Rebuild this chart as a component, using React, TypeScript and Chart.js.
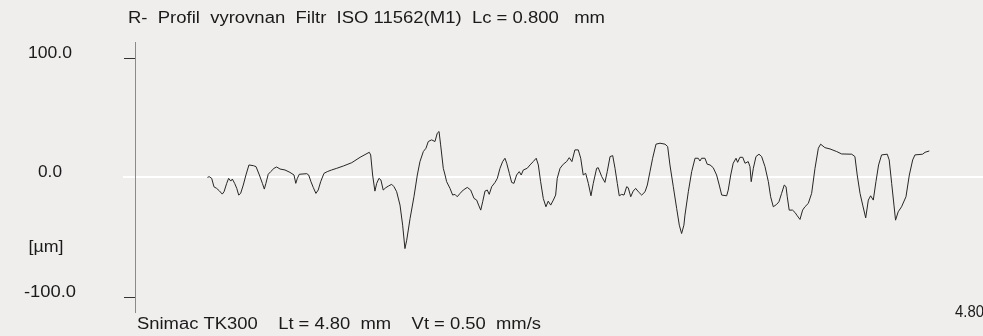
import { useEffect, useRef } from "react";
import { Chart, registerables } from "chart.js";

Chart.register(...registerables);

// Profile position along the trace [mm]
const profileX = [
  0.41, 0.42, 0.434, 0.447, 0.462, 0.477, 0.494, 0.504, 0.519, 0.53, 0.542, 0.551, 0.564, 0.576, 0.587, 0.598,
  0.613, 0.628, 0.645, 0.67, 0.685, 0.704, 0.721, 0.732, 0.741, 0.754, 0.768, 0.787, 0.802, 0.821, 0.849, 0.877,
  0.9, 0.91, 0.919, 0.93, 0.972, 0.983, 0.996, 1.009, 1.024, 1.037, 1.051, 1.066,
  1.07, 1.088, 1.113, 1.142, 1.179, 1.227, 1.274, 1.326, 1.334, 1.345, 1.358, 1.368, 1.381, 1.392, 1.405, 1.419,
  1.434, 1.453, 1.466, 1.481, 1.5, 1.515, 1.528, 1.538, 1.557, 1.579, 1.598, 1.613, 1.632, 1.647, 1.66, 1.679,
  1.698, 1.711, 1.721, 1.73, 1.745, 1.755,
  1.764, 1.783, 1.798, 1.811, 1.824, 1.84, 1.858, 1.881, 1.9, 1.919, 1.934, 1.945, 1.957, 1.968, 1.981, 1.994,
  2.005, 2.019, 2.038, 2.051, 2.066, 2.081, 2.094, 2.104, 2.119, 2.132, 2.145, 2.16, 2.175, 2.186, 2.198, 2.22,
  2.236, 2.254, 2.271, 2.283, 2.296, 2.311, 2.326, 2.339, 2.353, 2.368, 2.381, 2.39, 2.406, 2.424,
  2.443, 2.458, 2.473, 2.49, 2.509, 2.523, 2.537, 2.551, 2.566, 2.581, 2.594, 2.613, 2.622, 2.642, 2.66, 2.673,
  2.689, 2.704, 2.717, 2.73, 2.741, 2.755, 2.768, 2.783, 2.792, 2.806, 2.82, 2.834, 2.849, 2.868, 2.887, 2.9,
  2.915, 2.93, 2.949, 2.972, 3.0, 3.015, 3.028, 3.047, 3.066, 3.081, 3.094, 3.107,
  3.113, 3.132, 3.151, 3.17, 3.188, 3.198, 3.207, 3.226, 3.239, 3.255, 3.273, 3.292, 3.307, 3.321, 3.349, 3.358,
  3.372, 3.386, 3.402, 3.411, 3.424, 3.44, 3.453, 3.471, 3.481, 3.488, 3.5, 3.515, 3.532, 3.547, 3.566, 3.585,
  3.598, 3.613, 3.632, 3.645, 3.66, 3.675, 3.685, 3.692, 3.703, 3.722, 3.736, 3.749, 3.764, 3.779, 3.792,
  3.811, 3.83, 3.849, 3.868, 3.881, 3.905, 3.934, 3.972, 4.0, 4.057, 4.075, 4.088, 4.104, 4.119, 4.136, 4.151,
  4.164, 4.179, 4.194, 4.209, 4.226, 4.258, 4.269, 4.283, 4.296, 4.305, 4.32, 4.339, 4.364, 4.383, 4.402, 4.415,
  4.458, 4.472, 4.496,
];

// Profile height [µm]
const profileY = [
  -0.3, 0.3, -1.1, -8.2, -9.5, -11.5, -14.3, -12.3, -5.3, -1.1, -3.4, -1.7, -5.3, -9.5, -15.1, -13.7,
  -6.7, 1.7, 10.1, 9.5, 8.7, 1.7, -5.3, -10.1, -5.3, 2.3, 4.5, 7.3, 8.4, 6.7, 5.9, 3.9,
  1.7, -5.3, -1.1, 2.3, 2.8, 1.7, -3.9, -8.7, -13.7, -10.9, -3.9, 1.7,
  3.1, 4.5, 5.9, 7.3, 9.2, 12.0, 16.5, 20.7, 18.5, 1.7, -11.8, -5.3, -1.1, -2.5, -10.9, -9.0,
  -7.6, -6.1, -8.1, -12.3, -23.5, -40.3, -59.9, -52.9, -34.7, -16.5, 1.7, 12.9, 21.3, 24.1, 29.7, 31.1,
  29.7, 36.7, 38.1, 26.9, 7.3, 1.7,
  -3.9, -9.5, -15.1, -14.5, -16.5, -13.7, -10.9, -8.7, -10.9, -17.9, -19.3, -23.5, -27.7, -20.7, -11.8, -10.9,
  -14.5, -8.1, -4.5, -1.1, 7.3, 12.9, 15.7, 11.5, 3.1, -4.5, -5.3, 1.7, 4.5, 1.7, 5.9, 7.3,
  10.1, 12.9, 15.7, 10.1, -3.9, -17.9, -24.9, -20.2, -23.5, -19.3, -15.1, -1.1, 7.3, 10.7,
  12.9, 16.2, 12.9, 22.7, 22.7, 15.7, 1.7, 3.1, -5.3, -15.7, -5.3, 7.3, 7.8, 0.3, -4.5, 4.5,
  17.1, 17.9, 7.3, -5.3, -15.7, -14.5, -15.1, -8.1, -9.0, -16.5, -11.8, -9.5, -12.3, -15.1, -12.3, -6.7,
  4.5, 15.7, 27.5, 28.3, 27.5, 25.5, 10.1, -8.1, -26.3, -40.3, -47.3, -40.3,
  -31.9, -12.3, 4.5, 15.7, 15.7, 13.4, 15.7, 15.7, 10.7, 10.1, 7.8, 1.7, -6.7, -15.1, -15.7, -10.9,
  1.7, 11.5, 15.7, 12.3, 16.5, 16.5, 11.5, 12.9, 8.7, -3.9, 7.3, 17.1, 19.1, 17.1, 8.7, -3.9,
  -16.5, -24.9, -22.9, -20.7, -13.7, -6.7, -8.1, -16.5, -27.7, -27.7, -29.7, -32.5, -35.5, -27.7, -24.9,
  -22.1, -13.7, 7.3, 24.1, 27.5, 24.6, 23.5, 21.3, 19.3, 19.1, 17.1, 1.7, -13.7, -23.5, -34.2, -19.3,
  -15.7, -19.3, -3.9, 10.1, 18.5, 19.1, 14.3, -5.3, -23.5, -36.1, -29.1, -24.9, -16.5, 1.7, 14.3, 18.5,
  19.1, 20.7, 21.8,
];

const yTickValues = [100, 0, -100];
const yTickLabels = ["100.0", "0.0", "-100.0"];
const yUnitLabel = "[µm]";
const xEndLabel = "4.80";
const xMaxMm = 4.8;
const titleText = "R-  Profil  vyrovnan  Filtr  ISO 11562(M1)  Lc = 0.800   mm";
const footerText = "Snimac TK300    Lt = 4.80  mm    Vt = 0.50  mm/s";

const BG = "#efeeed";
const FONT = "16px 'Liberation Sans', Arial, sans-serif";

function drawText(
  ctx: CanvasRenderingContext2D,
  text: string,
  x: number,
  y: number,
  align: "left" | "center" | "right",
  width: number
) {
  ctx.save();
  ctx.font = FONT;
  ctx.textAlign = align;
  ctx.textBaseline = "middle";
  const w = ctx.measureText(text).width || 1;
  const s = width / w;
  ctx.translate(x, y);
  ctx.scale(s, 1);
  ctx.fillText(text, 0, 0);
  ctx.restore();
}

const decorPlugin = {
  id: "decor",
  beforeDraw(chart: any) {
    const ctx = chart.ctx as CanvasRenderingContext2D;
    ctx.save();
    ctx.fillStyle = BG;
    ctx.fillRect(0, 0, chart.width, chart.height);
    ctx.restore();
  },
  beforeDatasetsDraw(chart: any) {
    const ctx = chart.ctx as CanvasRenderingContext2D;
    const area = chart.chartArea;
    const ys = chart.scales.y;
    const y0 = Math.round(ys.getPixelForValue(0));
    ctx.save();
    ctx.fillStyle = "#ffffff";
    ctx.fillRect(123, y0 - 1, chart.width - 123, 2);
    ctx.fillStyle = "#8a8a8a";
    ctx.fillRect(Math.round(area.left), area.top, 1, area.bottom - area.top);
    ctx.fillStyle = "#333333";
    yTickValues.forEach((v) => {
      if (v === 0) return;
      const py = Math.round(ys.getPixelForValue(v));
      ctx.fillRect(Math.round(area.left) - 11, py, 11, 1);
    });
    ctx.restore();
  },
  afterDraw(chart: any) {
    const ctx = chart.ctx as CanvasRenderingContext2D;
    const ys = chart.scales.y;
    ctx.save();
    ctx.fillStyle = "#1a1a1a";
    const labelWidths = [44, 24, 52];
    yTickValues.forEach((v, i) => {
      const py = ys.getPixelForValue(v) - 4;
      drawText(ctx, yTickLabels[i], 50, py, "center", labelWidths[i]);
    });
    drawText(ctx, yUnitLabel, 46, 248, "center", 35);
    drawText(ctx, titleText, 128, 19, "left", 477);
    drawText(ctx, footerText, 137, 325, "left", 404);
    drawText(ctx, xEndLabel, 984, 313, "right", 29);
    ctx.restore();
  },
};

export default function App() {
  const ref = useRef<HTMLCanvasElement | null>(null);

  useEffect(() => {
    document.body.style.margin = "0";
    document.body.style.background = BG;
    const canvas = ref.current;
    if (!canvas) return;
    const chart = new Chart(canvas, {
      type: "line",
      data: {
        datasets: [
          {
            data: profileX.map((x, i) => ({ x, y: profileY[i] })),
            borderColor: "#262626",
            borderWidth: 1,
            pointRadius: 0,
            tension: 0,
            fill: false,
          },
        ],
      },
      options: {
        responsive: false,
        animation: false,
        devicePixelRatio: 1,
        layout: { padding: { left: 135, right: 0, top: 42, bottom: 23 } },
        scales: {
          x: { type: "linear", min: 0, max: xMaxMm, display: false },
          y: { type: "linear", min: -113.8, max: 113.0, display: false },
        },
        plugins: {
          legend: { display: false },
          tooltip: { enabled: false },
          title: { display: false },
        },
      },
      plugins: [decorPlugin],
    });
    return () => chart.destroy();
  }, []);

  return (
    <div style={{ width: 983, height: 336, background: BG }}>
      <canvas ref={ref} width={983} height={336} style={{ display: "block" }} />
    </div>
  );
}
